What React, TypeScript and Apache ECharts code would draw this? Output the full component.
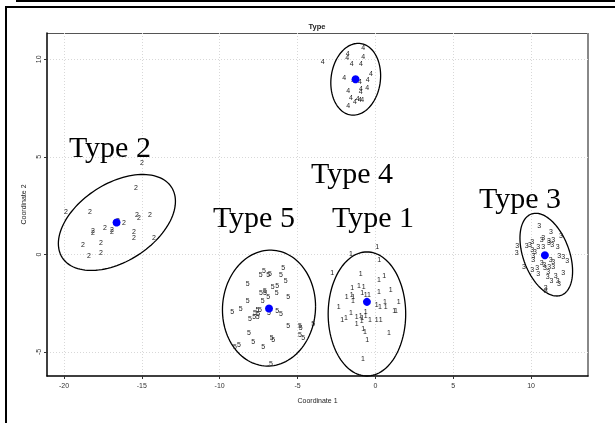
import React, { useEffect, useRef } from "react";
import * as echarts from "echarts";

const xTicks = [-20, -15, -10, -5, 0, 5, 10];
const yTicks = [-5, 0, 5, 10];

// cluster members (Coordinate 1, Coordinate 2)
const type1Points = [
  [0.12, 0.43], [-1.57, 0.05], [0.25, -0.26], [-2.77, -0.94], [-0.94, -0.97], [0.23, -1.28],
  [0.57, -1.08], [-1.48, -1.69], [-1.05, -1.59], [-0.75, -1.66], [-1.84, -2.14], [-1.52, -2.03],
  [-1.42, -2.14], [-0.84, -1.95], [-0.62, -2.03], [-0.41, -2.03], [0.23, -1.91], [0.98, -1.78],
  [-1.44, -2.38], [-2.36, -2.68], [0.08, -2.56], [0.3, -2.65], [0.62, -2.39], [0.66, -2.68],
  [1.5, -2.39], [1.21, -2.89], [1.32, -2.85], [-1.57, -2.99], [-1.2, -3.19], [-0.94, -3.11],
  [-0.84, -3.23], [-0.62, -2.94], [-0.62, -3.11], [-0.35, -3.33], [0.08, -3.31], [0.34, -3.31],
  [-2.13, -3.31], [-1.89, -3.23], [-1.2, -3.53], [-0.88, -3.36], [-0.78, -3.79], [-0.67, -3.96],
  [0.87, -4.01], [-0.52, -4.34], [-0.8, -5.31],
];
const type2Points = [
  [-14.99, 4.73], [-15.38, 3.45], [-19.87, 2.22], [-18.33, 2.22], [-16.53, 1.76], [-16.15, 1.65],
  [-15.31, 2.06], [-15.18, 1.91], [-14.48, 2.06], [-18.14, 1.24], [-18.14, 1.14], [-17.37, 1.4],
  [-16.92, 1.3], [-16.92, 1.19], [-15.5, 1.19], [-15.5, 0.89], [-14.22, 0.89], [-18.78, 0.53],
  [-17.62, 0.63], [-17.62, 0.12], [-18.39, -0.04],
];
const type3Points = [
  [10.53, 1.5], [11.28, 1.16], [11.92, 0.99], [11.15, 0.7], [10.68, 0.78], [10.78, 0.85],
  [11.43, 0.78], [11.15, 0.61], [11.36, 0.53], [9.11, 0.48], [9.72, 0.48], [9.93, 0.53],
  [10.08, 0.65], [10.46, 0.43], [10.78, 0.39], [11.71, 0.39], [10.08, 0.27], [10.25, 0.13],
  [9.08, 0.08], [10.14, -0.04], [11.81, -0.04], [12.07, -0.09], [10.14, -0.26], [10.68, -0.43],
  [10.85, -0.5], [11.26, -0.26], [11.43, -0.38], [12.33, -0.29], [9.54, -0.63], [10.4, -0.69],
  [10.89, -0.67], [11.17, -0.63], [11.43, -0.63], [10.08, -0.77], [10.46, -0.97], [11.1, -0.89],
  [12.07, -0.94], [11.58, -1.06], [11.07, -1.15], [11.71, -1.35], [11.79, -1.49], [10.94, -1.69],
  [10.94, -1.86], [11.32, -1.32],
];
const type4Points = [
  [-0.78, 10.6], [-3.38, 9.9], [-1.78, 10.29], [-1.8, 10.07], [-0.78, 10.17], [-1.52, 9.81],
  [-0.92, 9.81], [-2.0, 9.09], [-1.42, 8.89], [-0.99, 8.84], [-0.49, 8.98], [-0.28, 9.27],
  [-0.92, 8.5], [-0.94, 8.33], [-0.52, 8.55], [-1.74, 8.38], [-1.57, 8.02], [-1.14, 7.99],
  [-0.99, 7.95], [-0.84, 7.95], [-1.31, 7.86], [-1.74, 7.64],
];
const type5Points = [
  [-5.92, -0.69], [-7.15, -0.84], [-7.37, -1.02], [-6.88, -1.02], [-6.77, -0.96], [-6.06, -1.02],
  [-5.76, -1.32], [-8.2, -1.48], [-6.6, -1.66], [-6.3, -1.61], [-7.09, -1.83], [-7.35, -1.95],
  [-7.09, -1.95], [-6.34, -1.95], [-6.88, -2.17], [-5.59, -2.14], [-8.2, -2.34], [-7.24, -2.34],
  [-8.65, -2.77], [-9.19, -2.94], [-7.58, -2.8], [-7.41, -2.8], [-7.73, -2.99], [-7.52, -3.02],
  [-8.05, -3.28], [-7.78, -3.19], [-7.56, -3.16], [-6.3, -2.85], [-6.06, -3.02], [-6.83, -2.99],
  [-5.59, -3.62], [-4.84, -3.62], [-4.8, -3.74], [-3.99, -3.53], [-8.12, -4.01], [-6.66, -4.27],
  [-6.56, -4.34], [-7.84, -4.48], [-4.84, -4.1], [-4.63, -4.25], [-9.02, -4.7], [-8.76, -4.64],
  [-7.2, -4.73], [-6.71, -5.57],
];

const clusterNames = ["1", "2", "3", "4", "5"];
const clusterPoints = [type1Points, type2Points, type3Points, type4Points, type5Points];

// centroids
const centroids = [
  [-0.54, -2.43], [-16.62, 1.64], [10.89, -0.04], [-1.27, 8.98], [-6.83, -2.77],
];

// ellipses: centre x, centre y, half-width (x), half-height (y), correlation
const ellipses = [
  [-0.54, -3.05, 2.49, 3.18, 0.0],
  [-16.6, 1.64, 3.76, 2.46, 0.44],
  [10.98, -0.01, 1.69, 2.12, -0.4],
  [-1.26, 8.98, 1.6, 1.84, 0.1],
  [-6.83, -2.75, 2.99, 2.97, 0.03],
];

// cluster captions
const captionTexts = ["Type 1", "Type 2", "Type 3", "Type 4", "Type 5"];
const captionPositions = [
  [-0.15, 1.96], [-17.05, 5.55], [9.29, 2.93], [-1.5, 4.21], [-7.8, 1.96],
];

const FONT = "Liberation Sans, Arial, sans-serif";
const INK = "#222";

export default function App() {
  const ref = useRef<HTMLDivElement>(null);
  useEffect(() => {
    if (!ref.current) return;
    const chart = echarts.init(ref.current, null, { renderer: "svg" });

    const pointSeries = clusterPoints.map((pts, i) => ({
      type: "custom",
      name: "cluster " + clusterNames[i],
      data: pts,
      encode: { x: 0, y: 1 },
      silent: true,
      clip: false,
      itemStyle: { color: INK },
      renderItem: (params: any, api: any) => {
        const p = api.coord([api.value(0), api.value(1)]);
        return {
          type: "text",
          x: p[0],
          y: p[1],
          style: {
            text: clusterNames[i],
            fontSize: 7,
            fontFamily: FONT,
            fill: INK,
            align: "center",
            verticalAlign: "middle",
          },
        };
      },
    }));

    const option: any = {
      animation: false,
      color: [INK],
      backgroundColor: "#fff",
      grid: { left: 47, right: 27, top: 33, bottom: 47, containLabel: false },
      xAxis: {
        type: "value",
        min: -21.09,
        max: 13.66,
        name: "Coordinate 1",
        nameLocation: "middle",
        nameGap: 21,
        nameTextStyle: { fontSize: 7, color: INK, fontFamily: FONT },
        axisLine: { show: true, onZero: false, lineStyle: { color: "#000", width: 1.5 } },
        axisTick: { show: true, customValues: xTicks, length: 3, lineStyle: { color: "#333" } },
        axisLabel: { customValues: xTicks, fontSize: 7, color: "#333", margin: 6, fontFamily: FONT },
        splitLine: { show: true, lineStyle: { color: "#d8d8d8", type: [1, 2], width: 1 } },
      },
      yAxis: {
        type: "value",
        min: -6.23,
        max: 11.35,
        name: "Coordinate 2",
        nameLocation: "middle",
        nameGap: 20,
        nameRotate: 90,
        nameTextStyle: { fontSize: 7, color: INK, fontFamily: FONT },
        axisLine: { show: true, onZero: false, lineStyle: { color: "#000", width: 1.5 } },
        axisTick: { show: true, customValues: yTicks, length: 3, lineStyle: { color: "#333" } },
        axisLabel: { customValues: yTicks, rotate: 90, fontSize: 7, color: "#333", margin: 5, fontFamily: FONT },
        splitLine: { show: true, lineStyle: { color: "#d8d8d8", type: [1, 2], width: 1 } },
      },
      graphic: [
        { type: "rect", shape: { x: 16, y: 0, width: 599, height: 2 }, style: { fill: "#000" }, silent: true },
        { type: "rect", shape: { x: 5, y: 6, width: 610, height: 2 }, style: { fill: "#000" }, silent: true },
        { type: "rect", shape: { x: 5, y: 6, width: 2, height: 417 }, style: { fill: "#000" }, silent: true },
        { type: "line", shape: { x1: 47, y1: 33.5, x2: 588, y2: 33.5 }, style: { stroke: "#555", lineWidth: 1.2 }, silent: true },
        { type: "line", shape: { x1: 588, y1: 33, x2: 588, y2: 376.5 }, style: { stroke: "#888", lineWidth: 2 }, silent: true },
        {
          type: "text",
          x: 317,
          y: 26,
          style: {
            text: "Type",
            fontSize: 7.5,
            fontWeight: "bold",
            fontFamily: FONT,
            fill: INK,
            align: "center",
            verticalAlign: "middle",
          },
        },
      ],
      series: [
        {
          type: "custom",
          name: "ellipses",
          data: ellipses,
          encode: { x: 0, y: 1 },
          silent: true,
          clip: false,
          itemStyle: { color: "#000" },
          renderItem: (params: any, api: any) => {
            const cx = api.value(0), cy = api.value(1), a = api.value(2), b = api.value(3), r = api.value(4);
            const s = Math.sqrt(1 - r * r);
            const pts: number[][] = [];
            for (let k = 0; k <= 120; k++) {
              const t = (k / 120) * Math.PI * 2;
              pts.push(api.coord([cx + a * Math.cos(t), cy + b * (r * Math.cos(t) + s * Math.sin(t))]));
            }
            return {
              type: "polyline",
              shape: { points: pts },
              style: { stroke: "#000", fill: "none", lineWidth: 1.3 },
            };
          },
        },
        ...pointSeries,
        {
          type: "scatter",
          name: "centroids",
          data: centroids,
          symbol: "circle",
          symbolSize: 8,
          itemStyle: { color: "#0000ff", opacity: 1 },
          silent: true,
          z: 5,
        },
        {
          type: "custom",
          name: "captions",
          data: captionPositions,
          encode: { x: 0, y: 1 },
          silent: true,
          clip: false,
          itemStyle: { color: "#000" },
          renderItem: (params: any, api: any) => {
            const p = api.coord([api.value(0), api.value(1)]);
            return {
              type: "text",
              x: p[0],
              y: p[1],
              style: {
                text: captionTexts[params.dataIndex],
                fontSize: 30,
                fontFamily: "Liberation Serif, Times New Roman, serif",
                fill: "#000",
                align: "center",
                verticalAlign: "middle",
              },
            };
          },
        },
      ],
    };
    chart.setOption(option);
    return () => chart.dispose();
  }, []);
  return (
    <div
      ref={ref}
      style={{ position: "absolute", left: 0, top: 0, width: 615, height: 423, willChange: "transform" }}
    />
  );
}
